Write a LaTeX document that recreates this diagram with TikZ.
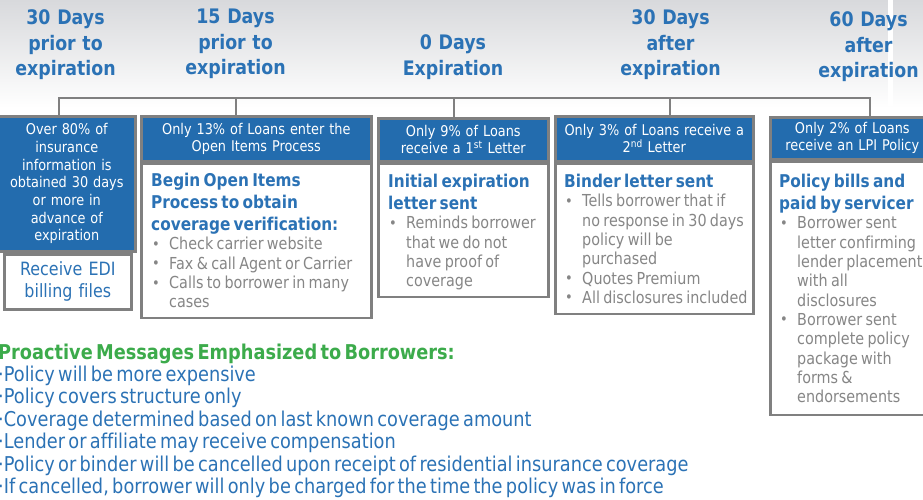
\documentclass[tikz,border=0pt]{standalone}
\usepackage{fontspec}
\setmainfont{DejaVu Sans}[FakeStretch=0.87, Ligatures=NoCommon]
\usetikzlibrary{calc}

\definecolor{boxblue}{HTML}{236CAE}
\definecolor{headblue}{HTML}{2B72B5}
\definecolor{rulegray}{HTML}{808080}
\definecolor{textgray}{HTML}{868686}
\definecolor{msggreen}{HTML}{3CAB4B}
\definecolor{topgray}{HTML}{D8D9DC}

\newcommand{\boxtitle}{\color{headblue}\bfseries\fontsize{17.6}{22}\selectfont}
\newcommand{\boxbody}{\color{textgray}\fontsize{16.5}{19.3}\selectfont}
\newcommand{\bitem}{\hspace*{1pt}\makebox[17pt][l]{\raisebox{.5pt}{\fontsize{15}{15}\selectfont •}}}
\newcommand{\bcont}{\hspace*{18pt}}

\tikzset{
  hdtext/.style={text=headblue, font=\bfseries\fontsize{20}{25.5}\selectfont,
    align=center, text width=140pt, anchor=base, inner sep=0pt},
  link/.style={draw=rulegray, line width=2.6pt},
  hdbox/.style={link, fill=boxblue, text=white, anchor=north west, inner sep=0pt,
    align=center, font=\fontsize{14.8}{17}\selectfont},
  bodybox/.style={link, fill=white, anchor=north west, inner sep=0pt},
  bodytext/.style={anchor=base west, inner sep=0pt, text width=240pt, align=left},
}

\begin{document}
\begin{tikzpicture}[x=1pt,y=-1pt]
	\useasboundingbox (0,0) rectangle (923,500);
	\shade[top color=topgray, bottom color=white] (0,0) rectangle (923,108);
	\fill[white] (888,0) rectangle (893,106);

	% time line headings
	\node[hdtext] (h1) at (65.5,25) {30 Days\\prior to\\expiration};
	\node[hdtext] (h2) at (235.5,24) {15 Days\\prior to\\expiration};
	\node[hdtext] (h3) at (453,50) {0 Days\\Expiration};
	\node[hdtext] (h4) at (670.5,25) {30 Days\\after\\expiration};
	\node[hdtext] (h5) at (868.5,27) {60 Days\\after\\expiration};

	% stage boxes
	\node[hdbox, text width=137pt, minimum height=135pt, font=\fontsize{14.8}{17.7}\selectfont] (b1) at (-3,115)
		{Over 80\% of\\insurance\\information is\\obtained 30 days\\or more in\\advance of\\expiration};
	\node[link, fill=white, anchor=north west, inner sep=0pt, text width=127pt, minimum height=55pt,
		align=center, text=headblue, font=\fontsize{18.3}{22}\selectfont] (edi) at (3,253) {Receive EDI\\billing files};

	\node[hdbox, text width=230pt, minimum height=45pt] (b2h) at (140,115) {Only 13\% of Loans enter the\\Open Items Process};
	\node[bodybox, minimum width=230pt, minimum height=154pt] (b2b) at (b2h.south west) {};
	\node[hdbox, text width=170pt, minimum height=43pt] (b3h) at (377,117) {Only 9\% of Loans\\receive a 1\textsuperscript{st} Letter};
	\node[bodybox, minimum width=170pt, minimum height=133pt] (b3b) at (b3h.south west) {};
	\node[hdbox, text width=198pt, minimum height=45pt] (b4h) at (554,115) {Only 3\% of Loans receive a\\2\textsuperscript{nd} Letter};
	\node[bodybox, minimum width=198pt, minimum height=150pt] (b4b) at (b4h.south west) {};
	\node[hdbox, text width=164pt, minimum height=42pt] (b5h) at (769,116) {Only 2\% of Loans\\receive an LPI Policy};
	\node[bodybox, minimum width=164pt, minimum height=253pt] (b5b) at (b5h.south west) {};

	% what happens at each stage
	\node[bodytext] (t2) at ($(b2b.north west)+(11,24)$)
		{{\boxtitle Begin Open Items\\Process to obtain\\coverage verification:\par}
		 {\boxbody \bitem Check carrier website\\\bitem Fax \& call Agent or Carrier\\\bitem Calls to borrower in many\\\bcont cases\par}};
	\node[bodytext] (t3) at ($(b3b.north west)+(11,25)$)
		{{\boxtitle Initial expiration\\letter sent\par}
		 {\boxbody \bitem Reminds borrower\\\bcont that we do not\\\bcont have proof of\\\bcont coverage\par}};
	\node[bodytext] (t4) at ($(b4b.north west)+(10,25)$)
		{{\boxtitle Binder letter sent\par}
		 {\boxbody \bitem Tells borrower that if\\\bcont no response in 30 days\\\bcont policy will be\\\bcont purchased\\\bitem Quotes Premium\\\bitem All disclosures included\par}};
	\node[bodytext] (t5) at ($(b5b.north west)+(10,27)$)
		{{\boxtitle Policy bills and\\paid by servicer\par}
		 {\boxbody \bitem Borrower sent\\\bcont letter confirming\\\bcont lender placement\\\bcont with all\\\bcont disclosures\\\bitem Borrower sent\\\bcont complete policy\\\bcont package with\\\bcont forms \&\\\bcont endorsements\par}};

	% time line
	\coordinate (j1) at (59,98);
	\coordinate (j2) at (236,98);
	\coordinate (j3) at (454,98);
	\coordinate (j4) at (670,98);
	\coordinate (j5) at (870,98);
	\draw[link] (j1 |- b1.north) -- (j1) -- (j5) -- (j5 |- b5h.north);
	\foreach \j/\b in {j2/b2h,j3/b3h,j4/b4h} \draw[link] (\j) -- (\j |- \b.north);

	% messages
	\node[bodytext, text width=720pt] (msgs) at (-2,359)
		{{\color{msggreen}\bfseries\fontsize{20.4}{22.4}\selectfont Proactive Messages Emphasized to Borrowers:\par}
		 {\color{headblue}\fontsize{20.4}{22.4}\selectfont
		 ·Policy will be more expensive\\
		 ·Policy covers structure only\\
		 ·Coverage determined based on last known coverage amount\\
		 ·Lender or affiliate may receive compensation\\
		 ·Policy or binder will be cancelled upon receipt of residential insurance coverage\\
		 ·If cancelled, borrower will only be charged for the time the policy was in force\par}};
\end{tikzpicture}
\end{document}
